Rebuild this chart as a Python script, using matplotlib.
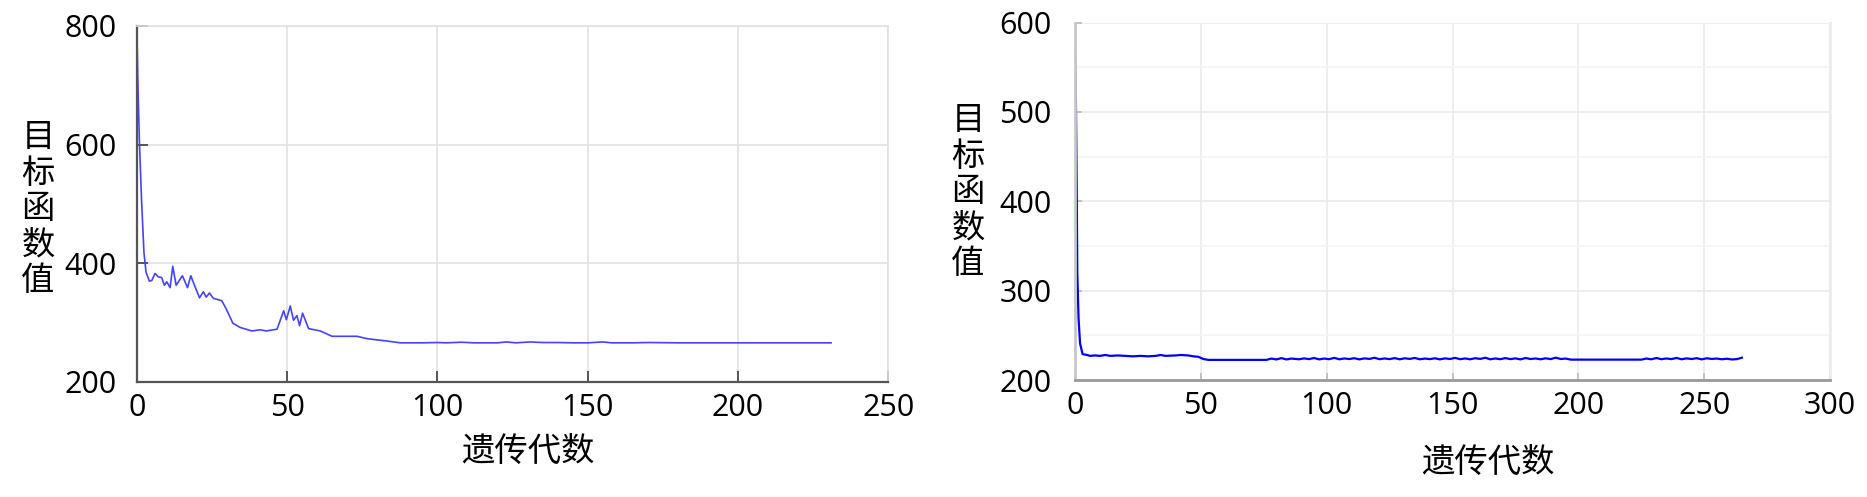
import matplotlib
matplotlib.use("Agg")
import matplotlib.pyplot as plt

plt.rcParams['font.family'] = ['Open Sans', 'Noto Sans CJK SC', 'DejaVu Sans']
cjk = ['Noto Sans CJK SC', 'DejaVu Sans']

# left run: points (generation, objective value)
gen_a = [0, 0.3, 0.8, 1.5, 2.3, 3, 4.1, 4.9, 6, 7.1, 8.2, 9.1, 9.9, 11, 11.9,
         13, 15.1, 16.8, 17.9, 19.5, 20.8, 22.1, 23, 24.1, 25.4, 28.2, 29.7,
         31.9, 34.3, 38.2, 41, 43, 46.6, 48.8, 49.7, 51, 52.1, 53.2, 54.1,
         55.1, 57.1, 61, 64.9, 73.2, 76.6, 83.2, 87.7, 95, 100, 103, 108, 112,
         120, 123, 126, 131, 135, 140, 145, 150, 155, 158, 165, 170, 180, 190,
         200, 210, 220, 231]
val_a = [780, 700, 603, 507, 418, 385, 370, 371, 383, 377, 376, 363, 369, 359,
         395, 363, 379, 359, 379, 358, 342, 352, 343, 350, 341, 337, 323, 299,
         292, 286, 288, 286, 289, 320, 305, 328, 304, 312, 295, 316, 290, 286,
         277, 277, 273, 269, 266, 266, 266.5, 266, 267, 266, 266, 267.5, 266,
         267.5, 266.5, 266.5, 266, 266, 267.5, 266, 266, 266.5, 266, 266, 266,
         266, 266, 266]

# right run
gen_b = [0, 0.3, 0.5, 0.7, 0.9, 1.4, 2, 3, 4.8, 6, 8, 10, 12, 14, 17, 20, 23,
         26, 29, 32, 34, 36, 40, 42, 45, 47, 49, 51, 53, 76, 78, 80, 82, 84,
         86, 89, 91, 93, 95, 97, 99, 101, 103, 105, 107, 109, 111, 113, 115,
         117, 119, 121, 123, 125, 127, 129, 131, 133, 135, 137, 139, 141, 143,
         145, 147, 149, 151, 153, 155, 157, 159, 161, 163, 165, 167, 169, 171,
         173, 175, 177, 179, 181, 183, 185, 187, 189, 191, 193, 195, 197, 225,
         227, 229, 231, 233, 235, 237, 239, 241, 243, 245, 247, 249, 251, 253,
         255, 257, 259, 261, 263, 264, 265]
val_b = [570, 528, 470, 402, 321, 269, 241, 229, 228, 227, 227.5, 227, 228, 227,
         227.5, 227, 226.5, 227, 226.5, 227, 228, 227, 227.5, 228, 227.5,
         226.5, 226, 223.5, 222.5, 222.5, 224, 223, 224.5, 223, 224, 223.2,
         224.2, 223.4, 224.6, 223.1, 224, 223.3, 224.8, 223.2, 224.1, 223.5,
         224.4, 223.1, 224.2, 223.6, 224.9, 223.3, 224.1, 223.4, 224.5, 223.2,
         224.3, 223.6, 224.7, 223.2, 224, 223.4, 224.3, 223.1, 224.2, 223.5,
         224.8, 223.3, 224.1, 223.2, 224.4, 223.6, 224.9, 223.2, 224.1, 223.3,
         224.5, 223.4, 224.2, 223.1, 224.6, 223.5, 224.1, 223.2, 224.3, 223.4,
         225, 223.5, 224, 222.8, 222.8, 224, 223.2, 224.6, 223.3, 224.1, 223.4,
         224.7, 223.2, 224.2, 223.5, 224.4, 223.1, 224.3, 223.6, 224, 223.2,
         223.8, 223, 223.4, 224.2, 225]

fig = plt.figure(figsize=(18.67, 4.97), dpi=100)

# ---- left panel ----
ax1 = fig.add_axes([0.0734, 0.2314, 0.4023, 0.7163])
ax1.plot(gen_a, val_a, color='#4444ff', lw=1.2)
ax1.set_xlim(0, 250)
ax1.set_ylim(200, 800)
ax1.set_xticks([0, 50, 100, 150, 200, 250])
ax1.set_yticks([200, 400, 600, 800])
ax1.grid(True, color='#e2e2e2', lw=1.2)
for s in ['top', 'right']:
    ax1.spines[s].set_color('#e2e2e2')
    ax1.spines[s].set_linewidth(1.2)
for s in ['left', 'bottom']:
    ax1.spines[s].set_color('#555555')
    ax1.spines[s].set_linewidth(1.6)
ax1.tick_params(direction='in', length=8, width=1.4, color='#555555',
                labelsize=22, top=False, right=False)
ax1.tick_params(axis='y', pad=15)
ax1.tick_params(axis='x', pad=8)

# ---- right panel ----
ax2 = fig.add_axes([0.5758, 0.2354, 0.4044, 0.7191])
ax2.plot(gen_b, val_b, color='#0000ff', lw=1.6)
ax2.set_xlim(0, 300)
ax2.set_ylim(200, 600)
ax2.set_xticks([0, 50, 100, 150, 200, 250, 300])
ax2.set_yticks([200, 300, 400, 500, 600])
ax2.set_yticks([250, 350, 450, 550], minor=True)
ax2.grid(True, which='major', color='#ebebeb', lw=1.2)
ax2.grid(True, which='minor', color='#f5f5f5', lw=1.2)
ax2.spines['top'].set_visible(False)
ax2.spines['right'].set_color('#ececec')
ax2.spines['right'].set_linewidth(2)
ax2.spines['left'].set_color('#c8c8c8')
ax2.spines['left'].set_linewidth(2)
ax2.spines['bottom'].set_color('#9a9a9a')
ax2.spines['bottom'].set_linewidth(2)
ax2.tick_params(direction='in', length=5, width=1.2, color='#bbbbbb',
                labelsize=22)
ax2.tick_params(which='minor', length=0)
ax2.tick_params(axis='y', pad=17)
ax2.tick_params(axis='x', pad=8)

# stacked vertical y labels and x labels
fig.text(0.0204, 0.5795, '目\n标\n函\n数\n值', fontsize=24, ha='center',
         va='center', linespacing=1.03, family=cjk)
fig.text(0.5185, 0.6137, '目\n标\n函\n数\n值', fontsize=24, ha='center',
         va='center', linespacing=1.03, family=cjk)
fig.text(0.2828, 0.0926, '遗传代数', fontsize=24, ha='center', va='center',
         family=cjk)
fig.text(0.797, 0.0704, '遗传代数', fontsize=24, ha='center', va='center',
         family=cjk)

fig.savefig('out.png', dpi=100)
